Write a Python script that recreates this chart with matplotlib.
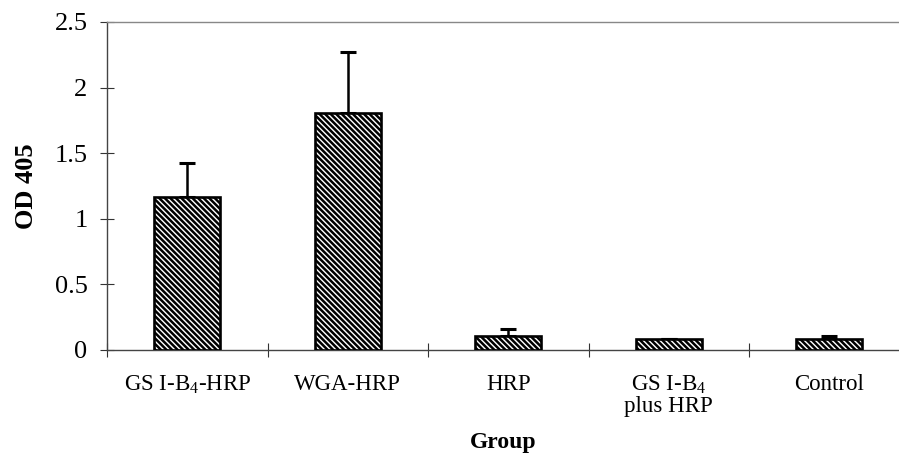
import numpy as np
import matplotlib
matplotlib.use('Agg')
import matplotlib.pyplot as plt

plt.rcParams['font.family'] = ['Liberation Serif', 'DejaVu Serif']
plt.rcParams['mathtext.fontset'] = 'custom'
plt.rcParams['mathtext.rm'] = 'Liberation Serif'
plt.rcParams['mathtext.it'] = 'Liberation Serif'
plt.rcParams['hatch.linewidth'] = 1.8

# Данные графика
groups = ['GS I-B$_4$-HRP', 'WGA-HRP', 'HRP', 'GS I-B$_4$\nplus HRP', 'Control']
od_values = [1.165, 1.805, 0.11, 0.085, 0.085]
od_errors = [0.26, 0.465, 0.05, 0.0, 0.02]
y_ticks = [0, 0.5, 1, 1.5, 2, 2.5]
y_tick_labels = ['0', '0.5', '1', '1.5', '2', '2.5']

fig = plt.figure(figsize=(8.99, 4.54), dpi=100)
ax = fig.add_axes([107 / 899, 104 / 454, 792 / 899, 328 / 454])

x = np.arange(len(groups))
ax.bar(x, od_values, width=0.41, color='white', edgecolor='black',
       linewidth=1.9, hatch='\\\\\\\\\\\\', zorder=3)
ax.errorbar(x, od_values, yerr=[np.zeros(len(x)), od_errors], fmt='none',
            ecolor='black', elinewidth=1.8, capsize=5.5, capthick=2.2, zorder=2)

ax.set_xlim(-0.5, -0.5 + 792 / 160.5)
ax.set_ylim(0, 2.5)

ax.set_yticks(y_ticks)
ax.set_yticklabels(y_tick_labels, fontsize=19)
ax.set_xticks(x)
ax.set_xticklabels(groups, fontsize=16.5, va='top', linespacing=1.0)
ax.tick_params(axis='x', length=0, pad=17)
ax.set_xticks(np.arange(-0.5, len(groups) - 0.5, 1), minor=True)
ax.tick_params(axis='x', which='minor', direction='inout', length=10,
               width=0.8, color='#333333')
ax.tick_params(axis='y', direction='inout', length=10, width=0.8,
               color='#333333', pad=9)

for side in ['left', 'bottom', 'top']:
    ax.spines[side].set_linewidth(1.0)
    ax.spines[side].set_color('#444444')
ax.spines['top'].set_color('#888888')
ax.spines['right'].set_visible(False)

ax.set_ylabel('OD 405', fontsize=19, fontweight='bold', labelpad=12)
ax.set_xlabel('Group', fontsize=17, fontweight='bold', labelpad=11)

fig.savefig('out.png', dpi=100)
